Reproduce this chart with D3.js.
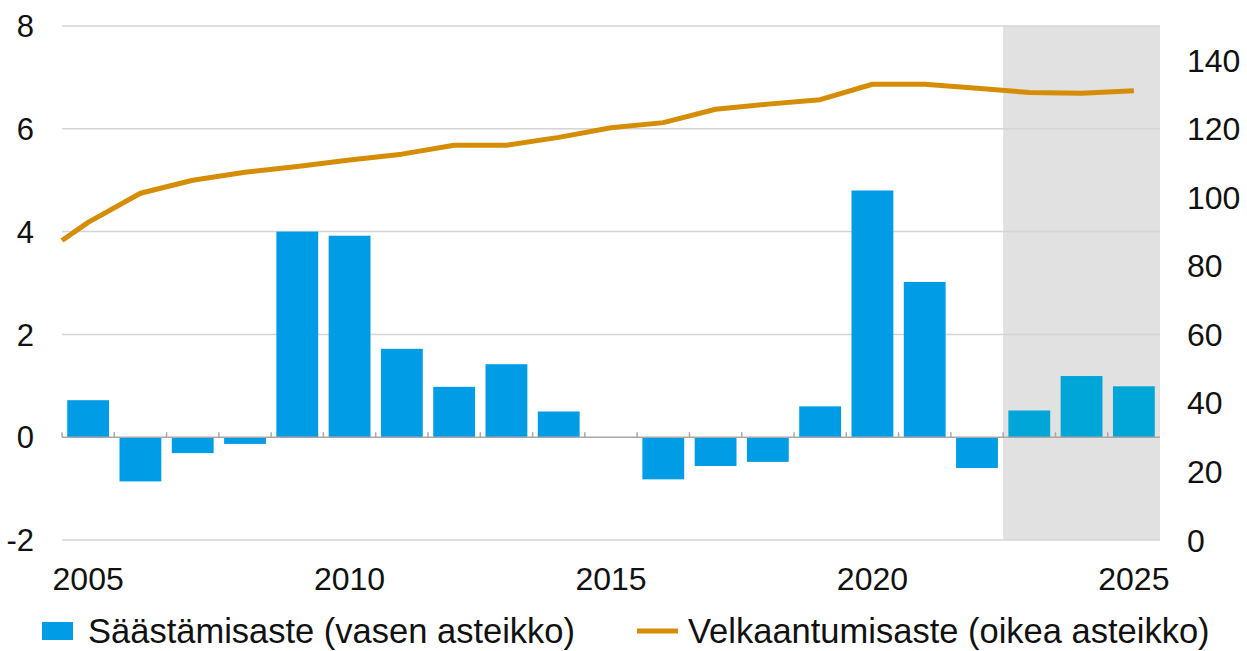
<!DOCTYPE html>
<html>
<head>
<meta charset="utf-8">
<script src="https://cdn.jsdelivr.net/npm/d3@7"></script>
<style>
  html, body { margin: 0; padding: 0; background: #fff; }
  svg text { font-family: "Liberation Sans", Arial, sans-serif; fill: #111; }
</style>
</head>
<body>
<div id="chart"></div>
<script>
// Vuodet (pylväät)
const years = [2005, 2006, 2007, 2008, 2009, 2010, 2011, 2012, 2013, 2014, 2015,
    2016, 2017, 2018, 2019, 2020, 2021, 2022, 2023, 2024, 2025];

// Säästämisaste, % (vasen asteikko)
const savingRate = [0.72, -0.86, -0.31, -0.13, 4.0, 3.92, 1.72, 0.98, 1.42, 0.5, 0.0,
    -0.82, -0.56, -0.48, 0.6, 4.8, 3.02, -0.6, 0.52, 1.19, 0.99];

// Velkaantumisaste, % (oikea asteikko)
const debtYears = [2004.5, 2005, 2006, 2007, 2008, 2009, 2010, 2011, 2012, 2013, 2014,
    2015, 2016, 2017, 2018, 2019, 2020, 2021, 2022, 2023, 2024, 2025];
const debtRatio = [87.4, 92.7, 101.2, 105, 107.3, 109, 110.9, 112.6, 115.2, 115.2, 117.5,
    120.3, 121.8, 125.7, 127.2, 128.5, 133, 133, 131.8, 130.6, 130.4, 131.1];

// Ennustevuodet (harmaa tausta)
const forecastYears = [2023, 2024, 2025];

const leftTicks = [-2, 0, 2, 4, 6, 8];
const rightTicks = [0, 20, 40, 60, 80, 100, 120, 140];
const xTickLabels = [2005, 2010, 2015, 2020, 2025];

const legendLabels = ["Säästämisaste (vasen asteikko)", "Velkaantumisaste (oikea asteikko)"];

function drawChart() {
    const W = 1247, H = 651;
    const margin = { top: 26, right: 87, bottom: 111, left: 62 };
    const width = W - margin.left - margin.right;
    const height = H - margin.top - margin.bottom;

    const svg = d3.select("#chart")
        .append("svg")
        .attr("width", W)
        .attr("height", H);

    const g = svg.append("g")
        .attr("transform", `translate(${margin.left},${margin.top})`);

    // Skaalat
    const xBand = d3.scaleBand()
        .domain(years)
        .range([0, width])
        .paddingInner(0.2)
        .paddingOuter(0.1);

    const xYear = d3.scaleLinear()
        .domain([years[0] - 0.5, years[years.length - 1] + 0.5])
        .range([0, width]);

    const yLeft = d3.scaleLinear()
        .domain([-2, 8])
        .range([height, 0]);

    const yRight = d3.scaleLinear()
        .domain([0, 150])
        .range([height, 0]);

    // Ennusteen tausta
    g.append("rect")
        .attr("x", xYear(forecastYears[0] - 0.5))
        .attr("y", 0)
        .attr("width", xYear(forecastYears[forecastYears.length - 1] + 0.5) - xYear(forecastYears[0] - 0.5))
        .attr("height", height)
        .attr("fill", "#e1e1e1");

    // Vaakaviivat
    g.selectAll(".grid")
        .data(leftTicks.filter(d => d !== 0))
        .enter()
        .append("line")
        .attr("x1", 0)
        .attr("x2", width)
        .attr("y1", d => yLeft(d))
        .attr("y2", d => yLeft(d))
        .attr("stroke", "#d4d4d4")
        .attr("stroke-width", 1.5);

    // Pylväät
    g.selectAll(".bar")
        .data(years)
        .enter()
        .append("rect")
        .attr("x", d => xBand(d))
        .attr("width", xBand.bandwidth())
        .attr("y", (d, i) => yLeft(Math.max(0, savingRate[i])))
        .attr("height", (d, i) => Math.abs(yLeft(savingRate[i]) - yLeft(0)))
        .attr("fill", d => forecastYears.includes(d) ? "#00a6d8" : "#009de6");

    // Nollaviiva ja tikit
    g.append("line")
        .attr("x1", 0)
        .attr("x2", width)
        .attr("y1", yLeft(0))
        .attr("y2", yLeft(0))
        .attr("stroke", "#a8a8a8")
        .attr("stroke-width", 1.5);

    g.selectAll(".xtick")
        .data(d3.range(years.length))
        .enter()
        .append("line")
        .attr("x1", i => xYear(years[i] - 0.5))
        .attr("x2", i => xYear(years[i] - 0.5))
        .attr("y1", yLeft(0))
        .attr("y2", yLeft(0) - 5)
        .attr("stroke", "#a8a8a8")
        .attr("stroke-width", 1.5);

    // Velkaantumisaste
    g.append("path")
        .datum(debtRatio)
        .attr("fill", "none")
        .attr("stroke", "#d68d06")
        .attr("stroke-width", 5)
        .attr("stroke-linejoin", "round")
        .attr("d", d3.line()
            .x((d, i) => xYear(debtYears[i]))
            .y(d => yRight(d))
        );

    // Vasen akseli
    g.selectAll(".ltick")
        .data(leftTicks)
        .enter()
        .append("text")
        .attr("x", -28)
        .attr("y", d => yLeft(d))
        .attr("dy", "0.36em")
        .attr("text-anchor", "end")
        .style("font-size", "31px")
        .text(d => d);

    // Oikea akseli
    g.selectAll(".rtick")
        .data(rightTicks)
        .enter()
        .append("text")
        .attr("x", width + 27)
        .attr("y", d => yRight(d))
        .attr("dy", "0.36em")
        .attr("text-anchor", "start")
        .style("font-size", "32px")
        .text(d => d);

    // X-akselin tekstit
    g.selectAll(".xlabel")
        .data(xTickLabels)
        .enter()
        .append("text")
        .attr("x", d => xYear(d))
        .attr("y", height + 38)
        .attr("dy", "0.36em")
        .attr("text-anchor", "middle")
        .style("font-size", "32px")
        .text(d => d);

    // Selite
    const legendY = H - 20;
    svg.append("rect")
        .attr("x", 42)
        .attr("y", legendY - 9)
        .attr("width", 31)
        .attr("height", 18)
        .attr("fill", "#009de6");
    svg.append("text")
        .attr("x", 88)
        .attr("y", legendY)
        .attr("dy", "0.36em")
        .style("font-size", "34.5px")
        .text(legendLabels[0]);

    svg.append("line")
        .attr("x1", 637)
        .attr("x2", 678)
        .attr("y1", legendY)
        .attr("y2", legendY)
        .attr("stroke", "#d68d06")
        .attr("stroke-width", 5);
    svg.append("text")
        .attr("x", 688)
        .attr("y", legendY)
        .attr("dy", "0.36em")
        .style("font-size", "34.5px")
        .text(legendLabels[1]);
}

drawChart();
</script>
</body>
</html>
